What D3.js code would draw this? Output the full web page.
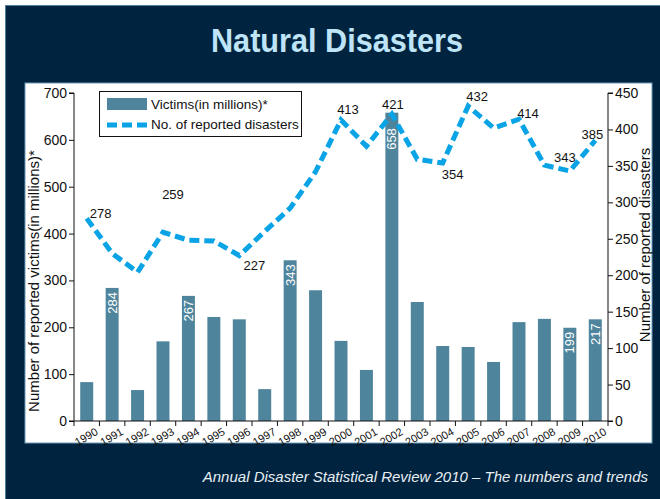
<!DOCTYPE html>
<html><head><meta charset="utf-8">
<script src="https://cdn.jsdelivr.net/npm/d3@7"></script>
<style>body{margin:0;background:#fff}svg{display:block}</style>
</head><body>
<script>
const years = ["1990","1991","1992","1993","1994","1995","1996","1997","1998","1999","2000","2001","2002","2003","2004","2005","2006","2007","2008","2009","2010"];
const victims = [83,284,66,170,267,222,217,68,343,279,171,109,658,254,160,158,126,211,218,199,217];
const disasters = [278,230,204,259,248,247,227,260,292,342,413,377,421,359,354,432,402,414,351,343,385];
const victimLabelYears = ["1991","1994","1998","2002","2009","2010"];
const disasterLabelYears = ["1990","1993","1996","2000","2002","2004","2005","2007","2009","2010"];
const leftTicks = [0,100,200,300,400,500,600,700];
const rightTicks = [0,50,100,150,200,250,300,350,400,450];

// label placement offsets (dx, dy of label centre from the point)
const labelOffset = {"1990":[14,-5],"1993":[10,-38],"1996":[15,10],"2000":[7,-11],"2002":[1,-10],
  "2004":[10,11],"2005":[9,-10],"2007":[9,-6],"2009":[-5,-14],"2010":[-3,-6]};

const W=660,H=499;
const font="Liberation Sans, Arial, sans-serif";
const svg=d3.select("body").append("svg").attr("width",W).attr("height",H);
svg.append("rect").attr("x",5.5).attr("y",5.5).attr("width",W-5).attr("height",H-5).attr("fill","#00243f").attr("stroke","#4a7fa0").attr("stroke-width",1);
svg.append("rect").attr("x",25).attr("y",83).attr("width",627).attr("height",360).attr("fill","#fff").attr("stroke","#6a9ab8").attr("stroke-width",1);

svg.append("text").attr("x",211).attr("y",52)
  .attr("textLength",252).attr("lengthAdjust","spacingAndGlyphs")
  .attr("font-family",font).attr("font-weight","bold").attr("font-size",33)
  .attr("fill","#bfe4f8").text("Natural Disasters");

const x0=74,x1=608,yTop=93,yBot=421;
const x=d3.scaleBand().domain(years).range([x0,x1]).paddingInner(0.49).paddingOuter(0.245);
const xb=d3.scaleBand().domain(years).range([x0,x1]);
const yL=d3.scaleLinear().domain([0,700]).range([yBot,yTop]);
const yR=d3.scaleLinear().domain([0,450]).range([yBot,yTop]);

// bars
svg.append("g").selectAll("rect").data(years).join("rect")
  .attr("x",d=>x(d)).attr("width",x.bandwidth())
  .attr("y",(d,i)=>yL(victims[i])).attr("height",(d,i)=>yBot-yL(victims[i]))
  .attr("fill","#4e849c");

// bar labels
victimLabelYears.forEach(yr=>{
  const i=years.indexOf(yr), v=victims[i];
  const cx=x(yr)+x.bandwidth()/2;
  const lineY=yR(disasters[i]);
  const off=Math.max(4, lineY-yL(v)+14);
  const ty=yL(v)+off;
  svg.append("text").attr("transform",`translate(${cx+4.5},${ty}) rotate(-90)`)
    .attr("text-anchor","end").attr("font-family",font).attr("font-size",13).attr("fill","#fff").text(v);
});

// line
const line=d3.line().x((d,i)=>xb(years[i])+xb.bandwidth()/2).y(d=>yR(d));
svg.append("path").datum(disasters).attr("d",line).attr("fill","none")
  .attr("stroke","#0aa4e6").attr("stroke-width",5).attr("stroke-dasharray","10,5");

// line labels
disasterLabelYears.forEach(yr=>{
  const i=years.indexOf(yr), v=disasters[i];
  const cx=xb(yr)+xb.bandwidth()/2, cy=yR(v);
  const [dx,dy]=labelOffset[yr];
  svg.append("text").attr("x",cx+dx).attr("y",cy+dy).attr("dy","0.35em").attr("text-anchor","middle")
    .attr("font-family",font).attr("font-size",13).attr("fill","#111").text(v);
});

// axes
const gL=svg.append("g").attr("transform",`translate(${x0},0)`)
  .call(d3.axisLeft(yL).tickValues(leftTicks).tickSize(5).tickPadding(2));
const gR=svg.append("g").attr("transform",`translate(${x1},0)`)
  .call(d3.axisRight(yR).tickValues(rightTicks).tickSize(5).tickPadding(2));
[gL,gR].forEach(g=>{g.selectAll("text").attr("font-family",font).attr("font-size",14).attr("fill","#111");
  g.selectAll("line,path").attr("stroke","#111");});
gL.select(".domain").attr("d",`M-5,${yTop}H0V${yBot}H-5`);
gR.select(".domain").attr("d",`M5,${yTop}H0V${yBot}H5`);

const gX=svg.append("g").attr("transform",`translate(0,${yBot})`);
gX.append("line").attr("x1",x0).attr("x2",x1).attr("stroke","#111");
gX.selectAll("line.t").data(d3.range(years.length+1)).join("line").attr("class","t")
  .attr("x1",i=>x0+i*xb.bandwidth()).attr("x2",i=>x0+i*xb.bandwidth()).attr("y1",0).attr("y2",5).attr("stroke","#111");
gX.selectAll("text").data(years).join("text")
  .attr("transform",d=>`translate(${xb(d)+xb.bandwidth()/2+12},${13}) rotate(-30)`)
  .attr("text-anchor","end").attr("font-family",font).attr("font-size",11).attr("fill","#111").text(d=>d);

// axis titles
svg.append("text").attr("transform",`translate(39,281) rotate(-90)`).attr("text-anchor","middle")
  .attr("font-family",font).attr("font-size",15).attr("fill","#111").text("Number of reported victims(in millions)*");
svg.append("text").attr("transform",`translate(650,245) rotate(-90)`).attr("text-anchor","middle")
  .attr("font-family",font).attr("font-size",15).attr("fill","#111").text("Number of reported disasters");

// legend
const lg=svg.append("g");
lg.append("rect").attr("x",99.5).attr("y",91.5).attr("width",202).attr("height",45).attr("fill","#fff").attr("stroke","#111");
lg.append("rect").attr("x",107).attr("y",98).attr("width",40).attr("height",12).attr("fill","#4e849c");
lg.append("line").attr("x1",107).attr("x2",147).attr("y1",125).attr("y2",125).attr("stroke","#0aa4e6").attr("stroke-width",5).attr("stroke-dasharray","10,5");
lg.append("text").attr("x",151).attr("y",109).attr("font-family",font).attr("font-size",13.5).attr("fill","#111").text("Victims(in millions)*");
lg.append("text").attr("x",151).attr("y",129).attr("font-family",font).attr("font-size",13.5).attr("fill","#111").text("No. of reported disasters");

svg.append("text").attr("x",648).attr("y",482).attr("text-anchor","end").attr("font-style","italic")
  .attr("font-family",font).attr("font-size",15).attr("fill","#e8eef3").text("Annual Disaster Statistical Review 2010 – The numbers and trends");
</script>
</body></html>
